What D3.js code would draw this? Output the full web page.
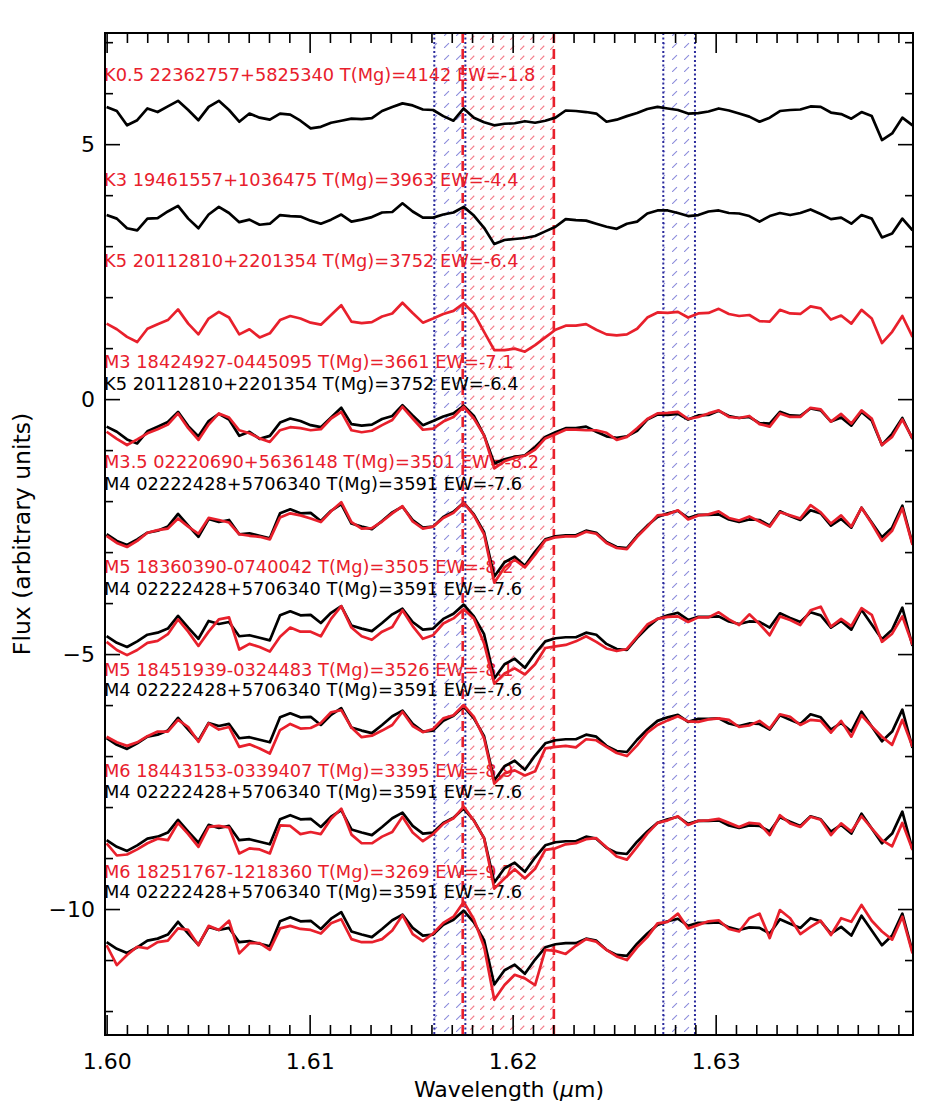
<!DOCTYPE html>
<html><head><meta charset="utf-8">
<script src="https://cdn.jsdelivr.net/npm/d3@7"></script>
<style>body{margin:0;background:#fff} svg text{font-family:"DejaVu Sans",sans-serif}</style>
</head><body>
<svg id="c" width="945" height="1102"></svg>
<script>
// ---------------- DATA ----------------
// wavelength grid (micron)
const wavelengths = d3.range(80).map(i => 1.6 + i * 0.0005025);

// spectra (flux relative to each panel's offset)
const specK05 = [0.13,0.05,-0.23,-0.13,0.10,0.03,0.14,0.25,0.07,-0.13,
 0.13,0.25,0.07,-0.16,0.00,-0.08,-0.12,0.00,-0.02,-0.14,
 -0.29,-0.26,-0.18,-0.14,-0.10,-0.11,-0.09,0.05,0.13,0.20,
 0.16,0.08,0.07,-0.05,-0.14,0.10,-0.08,-0.17,-0.23,-0.20,
 -0.19,-0.15,-0.18,-0.14,-0.08,0.06,0.05,0.03,0.00,-0.16,
 -0.12,-0.05,0.01,0.09,0.13,0.10,0.07,0.00,0.01,0.04,
 0.10,0.06,0.00,-0.06,-0.16,-0.08,0.05,0.07,0.08,0.14,
 0.13,0.02,-0.01,-0.10,0.03,-0.05,-0.52,-0.39,-0.08,-0.23];
const specK3 = [0.11,0.04,-0.15,-0.19,0.04,0.05,0.18,0.29,0.04,-0.15,
 0.12,0.27,0.15,-0.03,0.02,-0.08,-0.06,0.11,0.09,0.08,
 0.00,-0.06,0.02,0.12,-0.02,0.02,0.07,0.16,0.17,0.34,
 0.18,0.06,0.06,0.12,0.16,0.27,0.10,-0.14,-0.46,-0.38,
 -0.36,-0.34,-0.30,-0.21,-0.12,0.03,0.01,0.00,-0.06,-0.12,
 -0.16,-0.06,-0.02,0.14,0.20,0.20,0.15,0.09,0.11,0.18,
 0.20,0.15,0.14,0.09,-0.02,0.09,0.15,0.11,0.15,0.22,
 0.13,0.03,0.06,-0.06,0.11,0.04,-0.33,-0.25,0.04,-0.19];
const specK5 = [-0.02,-0.13,-0.28,-0.38,-0.12,-0.03,0.05,0.26,-0.02,-0.23,
 0.08,0.21,0.10,-0.23,-0.13,-0.29,-0.21,0.05,0.13,0.08,
 0.00,-0.04,0.15,0.34,0.02,-0.01,0.01,0.12,0.18,0.39,
 0.19,0.00,0.08,0.17,0.23,0.38,0.18,-0.18,-0.54,-0.54,
 -0.51,-0.57,-0.44,-0.29,-0.14,-0.06,-0.06,-0.03,-0.14,-0.23,
 -0.25,-0.23,-0.12,0.10,0.20,0.19,0.21,0.10,0.18,0.19,
 0.27,0.17,0.13,0.15,0.03,0.02,0.25,0.18,0.17,0.32,
 0.28,0.06,0.14,-0.02,0.25,0.08,-0.40,-0.18,0.13,-0.28];
const specK5b = [-0.04,-0.14,-0.29,-0.37,-0.13,-0.04,0.05,0.25,-0.03,-0.23,
 0.07,0.21,0.10,-0.22,-0.14,-0.28,-0.22,0.04,0.12,0.07,
 -0.01,-0.05,0.14,0.33,0.01,-0.02,0.00,0.11,0.17,0.38,
 0.18,-0.01,0.07,0.16,0.22,0.37,0.17,-0.21,-0.76,-0.68,
 -0.63,-0.60,-0.44,-0.24,-0.15,-0.07,-0.07,-0.04,-0.14,-0.23,
 -0.26,-0.23,-0.12,0.10,0.20,0.19,0.21,0.10,0.18,0.19,
 0.27,0.17,0.13,0.15,0.03,0.02,0.25,0.18,0.17,0.32,
 0.28,0.06,0.14,-0.02,0.25,0.08,-0.40,-0.18,0.13,-0.28];
const specM3 = [-0.14,-0.28,-0.40,-0.29,-0.17,-0.09,0.00,0.22,-0.07,-0.30,
 0.00,0.22,0.14,-0.11,-0.17,-0.27,-0.34,-0.11,-0.05,-0.07,
 -0.11,-0.09,0.12,0.25,-0.11,-0.15,-0.12,-0.01,0.09,0.35,
 0.12,-0.10,-0.08,0.06,0.15,0.35,0.12,-0.21,-0.86,-0.72,
 -0.65,-0.61,-0.49,-0.27,-0.19,-0.10,-0.10,-0.11,-0.11,-0.16,
 -0.30,-0.24,-0.07,0.11,0.22,0.23,0.25,0.11,0.15,0.22,
 0.28,0.15,0.13,0.17,0.01,-0.04,0.22,0.15,0.15,0.33,
 0.30,0.06,0.21,0.02,0.28,0.12,-0.40,-0.24,0.10,-0.27];
const specM35 = [-0.18,-0.32,-0.40,-0.28,-0.12,-0.07,-0.04,0.16,0.00,-0.14,
 0.17,0.13,0.08,-0.15,-0.18,-0.20,-0.25,0.18,0.26,0.22,
 0.16,0.09,0.30,0.48,0.09,-0.04,-0.03,0.10,0.26,0.40,
 0.10,-0.04,0.00,0.17,0.27,0.47,0.22,-0.15,-1.10,-0.80,
 -0.65,-0.80,-0.55,-0.27,-0.21,-0.19,-0.19,-0.10,-0.14,-0.32,
 -0.42,-0.44,-0.20,0.00,0.22,0.24,0.32,0.14,0.22,0.24,
 0.30,0.17,0.12,0.20,0.10,0.00,0.28,0.22,0.16,0.42,
 0.28,0.06,0.22,0.00,0.37,0.06,-0.28,-0.08,0.36,-0.36];
const specM4 = [-0.15,-0.28,-0.36,-0.25,-0.12,-0.08,0.00,0.25,0.02,-0.20,
 0.15,0.09,0.13,-0.15,-0.13,-0.18,-0.23,0.26,0.34,0.26,
 0.27,0.11,0.31,0.44,0.06,0.00,-0.05,0.11,0.28,0.39,
 0.13,-0.02,0.00,0.19,0.29,0.47,0.24,-0.11,-0.98,-0.70,
 -0.59,-0.77,-0.49,-0.25,-0.19,-0.17,-0.17,-0.08,-0.12,-0.30,
 -0.40,-0.42,-0.18,0.02,0.19,0.26,0.31,0.17,0.23,0.23,
 0.24,0.14,0.09,0.14,0.13,0.02,0.30,0.21,0.13,0.32,
 0.26,0.02,0.15,-0.02,0.37,0.08,-0.21,-0.02,0.41,-0.34];
const specM5a = [-0.26,-0.42,-0.52,-0.42,-0.28,-0.24,-0.11,0.18,-0.06,-0.34,
 -0.06,0.18,0.22,-0.41,-0.30,-0.36,-0.45,-0.16,0.02,-0.06,
 -0.06,-0.15,0.19,0.44,0.02,-0.15,-0.22,-0.06,0.03,0.36,
 0.05,-0.20,-0.13,0.10,0.20,0.38,0.20,-0.29,-1.08,-0.88,
 -0.78,-0.90,-0.70,-0.38,-0.35,-0.32,-0.25,-0.15,-0.26,-0.39,
 -0.44,-0.40,-0.16,0.08,0.19,0.23,0.24,0.13,0.22,0.22,
 0.32,0.18,0.07,0.28,0.09,-0.13,0.24,0.17,0.07,0.36,
 0.43,0.04,0.19,0.05,0.40,0.27,-0.26,-0.10,0.24,-0.32];
const specM5b = [-0.12,-0.23,-0.30,-0.23,-0.11,-0.02,-0.02,0.21,0.07,-0.22,
 0.14,0.02,0.07,-0.32,-0.27,-0.35,-0.45,0.01,0.13,0.04,
 0.05,0.15,0.36,0.40,0.06,-0.13,-0.10,0.00,0.11,0.37,
 0.09,-0.03,0.03,0.24,0.30,0.50,0.27,-0.15,-1.04,-0.84,
 -0.78,-0.88,-0.80,-0.35,-0.32,-0.30,-0.33,-0.17,-0.19,-0.32,
 -0.44,-0.50,-0.29,-0.04,0.11,0.20,0.28,0.18,0.17,0.22,
 0.24,0.21,0.07,0.10,0.19,0.04,0.32,0.27,0.11,0.21,
 0.19,-0.04,0.19,-0.12,0.30,0.08,-0.12,-0.28,0.21,-0.32];
const specM6a = [-0.21,-0.45,-0.43,-0.33,-0.21,-0.12,-0.15,0.19,-0.03,-0.28,
 0.11,0.13,0.10,-0.41,-0.31,-0.33,-0.41,0.14,0.13,-0.03,
 0.01,-0.03,0.27,0.47,-0.04,-0.21,-0.21,-0.08,0.01,0.31,
 0.00,-0.17,-0.03,0.17,0.28,0.51,0.23,-0.11,-1.10,-0.90,
 -0.72,-0.90,-0.71,-0.34,-0.31,-0.23,-0.21,-0.13,-0.11,-0.29,
 -0.47,-0.53,-0.28,-0.02,0.19,0.24,0.32,0.15,0.23,0.24,
 0.27,0.19,0.11,0.19,0.17,-0.05,0.34,0.18,0.11,0.31,
 0.25,-0.05,0.18,0.02,0.32,0.08,-0.15,-0.27,0.19,-0.34];
const specM6b = [-0.21,-0.60,-0.40,-0.24,-0.27,-0.15,-0.12,0.12,0.09,-0.21,
 0.17,0.09,0.27,-0.37,-0.17,-0.17,-0.30,0.12,0.17,0.11,
 0.09,0.02,0.22,0.30,-0.09,-0.15,-0.15,-0.09,0.08,0.38,
 0.01,-0.13,0.02,0.23,0.35,0.64,0.30,-0.24,-1.28,-0.99,
 -0.79,-0.86,-0.99,-0.30,-0.32,-0.38,-0.22,-0.09,-0.14,-0.30,
 -0.43,-0.50,-0.25,-0.05,0.22,0.25,0.41,0.12,0.19,0.26,
 0.28,0.11,0.06,0.32,0.41,-0.07,0.48,0.32,0.01,0.15,
 0.27,-0.01,0.32,0.25,0.58,0.27,0.06,-0.10,0.35,-0.37];

// panel offsets (flux units)
const panelOffsets = [5.6, 3.5, 1.5, -0.5, -2.5, -4.5, -6.5, -8.5, -10.5];

// per panel: comparison (black) spectrum and target (red) spectrum
const blackSpectra = [specK05, specK3, null, specK5b, specM4, specM4, specM4, specM4, specM4];
const redSpectra   = [null, null, specK5, specM3, specM35, specM5a, specM5b, specM6a, specM6b];

const redLabels = [
  "K0.5 22362757+5825340 T(Mg)=4142 EW=-1.8",
  "K3 19461557+1036475 T(Mg)=3963 EW=-4.4",
  "K5 20112810+2201354 T(Mg)=3752 EW=-6.4",
  "M3 18424927-0445095 T(Mg)=3661 EW=-7.1",
  "M3.5 02220690+5636148 T(Mg)=3501 EW=-8.2",
  "M5 18360390-0740042 T(Mg)=3505 EW=-8.2",
  "M5 18451939-0324483 T(Mg)=3526 EW=-8.1",
  "M6 18443153-0339407 T(Mg)=3395 EW=-8.9",
  "M6 18251767-1218360 T(Mg)=3269 EW=-9.7"];
const blackLabels = [null, null, null,
  "K5 20112810+2201354 T(Mg)=3752 EW=-6.4",
  "M4 02222428+5706340 T(Mg)=3591 EW=-7.6",
  "M4 02222428+5706340 T(Mg)=3591 EW=-7.6",
  "M4 02222428+5706340 T(Mg)=3591 EW=-7.6",
  "M4 02222428+5706340 T(Mg)=3591 EW=-7.6",
  "M4 02222428+5706340 T(Mg)=3591 EW=-7.6"];

// spectral windows (micron)
const blueWindows = [[1.61614, 1.61767], [1.62742, 1.62898]];
const redWindow = [1.61754, 1.62203];

const xTickValues = [1.60, 1.61, 1.62, 1.63];
const xTickLabels = ["1.60", "1.61", "1.62", "1.63"];
const yTickValues = [5, 0, -5, -10];
const yTickLabels = ["5", "0", "\u22125", "\u221210"];

// ---------------- LAYOUT ----------------
const L = {left: 105, right: 913, top: 33, bottom: 1035};
const redLabelY = [6.235, 4.176, 2.588, 0.608, -1.353, -3.412, -5.431, -7.412, -9.392];
const blackLabelY = [null, null, null, 0.176, -1.784, -3.843, -5.824, -7.824, -9.784];
const RED = "#e8202c", BLUE = "#2a2a9c";

const svg = d3.select("#c");
const x = d3.scaleLinear().domain([1.59992, 1.63972]).range([L.left, L.right]);
const y = d3.scaleLinear().domain([-12.47, 7.18]).range([L.bottom, L.top]);

// patterns
const defs = svg.append("defs");
function hatch(id, size, color, dash, w) {
  const p = defs.append("pattern").attr("id", id).attr("patternUnits", "userSpaceOnUse")
    .attr("width", size).attr("height", size);
  p.append("line").attr("x1", 0).attr("y1", size).attr("x2", size).attr("y2", 0)
    .attr("stroke", color).attr("stroke-width", w).attr("stroke-dasharray", dash);
}
hatch("hRed", 10, "#f4808c", "6,8.14", 1.15);
hatch("hBlue", 12, "#8e8edc", "7,9.97", 1.15);

const plot = svg.append("g");
// hatched windows
plot.append("rect").attr("x", x(redWindow[0])).attr("width", x(redWindow[1]) - x(redWindow[0]))
  .attr("y", L.top).attr("height", L.bottom - L.top).attr("fill", "url(#hRed)");
blueWindows.forEach(w => {
  plot.append("rect").attr("x", x(w[0])).attr("width", x(w[1]) - x(w[0]))
    .attr("y", L.top).attr("height", L.bottom - L.top).attr("fill", "url(#hBlue)");
});

// labels
const labG = svg.append("g").attr("font-size", "17.8px");
redLabels.forEach((t, i) => {
  labG.append("text").attr("x", L.left - 1).attr("y", y(redLabelY[i])).attr("fill", RED).text(t);
});
blackLabels.forEach((t, i) => {
  if (!t) return;
  labG.append("text").attr("x", L.left - 1).attr("y", y(blackLabelY[i])).attr("fill", "#000").text(t);
});

// vertical window boundaries
blueWindows.forEach(w => w.forEach(v => {
  plot.append("line").attr("x1", x(v)).attr("x2", x(v)).attr("y1", L.top).attr("y2", L.bottom)
    .attr("stroke", BLUE).attr("stroke-width", 2).attr("stroke-dasharray", "2,2.5");
}));
redWindow.forEach(v => {
  plot.append("line").attr("x1", x(v)).attr("x2", x(v)).attr("y1", L.top).attr("y2", L.bottom)
    .attr("stroke", RED).attr("stroke-width", 2.6).attr("stroke-dasharray", "10,6");
});

// spectra
const clip = defs.append("clipPath").attr("id", "clipP");
clip.append("rect").attr("x", L.left).attr("y", L.top).attr("width", L.right - L.left).attr("height", L.bottom - L.top);
const specG = svg.append("g").attr("clip-path", "url(#clipP)");
function drawSpec(arr, off, color) {
  const line = d3.line().x((d, i) => x(wavelengths[i])).y(d => y(d + off));
  specG.append("path").attr("d", line(arr)).attr("fill", "none").attr("stroke", color)
    .attr("stroke-width", 2.7).attr("stroke-linejoin", "round");
}
panelOffsets.forEach((off, i) => {
  if (blackSpectra[i]) drawSpec(blackSpectra[i], off, "#000");
  if (redSpectra[i]) drawSpec(redSpectra[i], off, RED);
});

// axes
const xMinor = d3.range(1600, 1640).map(v => v / 1000).filter(v => !xTickValues.some(t => Math.abs(t - v) < 1e-9));
const yMinor = d3.range(-12, 8).filter(v => !yTickValues.includes(v));
function styleAxis(g, fs) {
  g.select(".domain").remove();
  g.selectAll(".tick line").attr("stroke-width", 1.6);
  g.selectAll("text").attr("font-family", "DejaVu Sans").attr("font-size", fs).attr("fill", "#000");
}
svg.append("g").attr("transform", `translate(0,${L.bottom})`)
  .call(d3.axisBottom(x).tickValues(xTickValues).tickFormat((d, i) => xTickLabels[i]).tickSize(-20).tickPadding(18.4))
  .call(g => styleAxis(g, "22px"));
svg.append("g").attr("transform", `translate(0,${L.bottom})`)
  .call(d3.axisBottom(x).tickValues(xMinor).tickFormat("").tickSize(-10)).call(g => styleAxis(g, "1px"));
svg.append("g").attr("transform", `translate(0,${L.top})`)
  .call(d3.axisTop(x).tickValues(xTickValues).tickFormat("").tickSize(-20)).call(g => styleAxis(g, "1px"));
svg.append("g").attr("transform", `translate(0,${L.top})`)
  .call(d3.axisTop(x).tickValues(xMinor).tickFormat("").tickSize(-10)).call(g => styleAxis(g, "1px"));
svg.append("g").attr("transform", `translate(${L.left},0)`)
  .call(d3.axisLeft(y).tickValues(yTickValues).tickFormat((d, i) => yTickLabels[i]).tickSize(-15).tickPadding(10))
  .call(g => styleAxis(g, "22px"));
svg.append("g").attr("transform", `translate(${L.left},0)`)
  .call(d3.axisLeft(y).tickValues(yMinor).tickFormat("").tickSize(-8)).call(g => styleAxis(g, "1px"));
svg.append("g").attr("transform", `translate(${L.right},0)`)
  .call(d3.axisRight(y).tickValues(yTickValues).tickFormat("").tickSize(-15)).call(g => styleAxis(g, "1px"));
svg.append("g").attr("transform", `translate(${L.right},0)`)
  .call(d3.axisRight(y).tickValues(yMinor).tickFormat("").tickSize(-8)).call(g => styleAxis(g, "1px"));

// frame
svg.append("rect").attr("x", L.left).attr("y", L.top).attr("width", L.right - L.left).attr("height", L.bottom - L.top)
  .attr("fill", "none").attr("stroke", "#000").attr("stroke-width", 2);

// titles
const xt = svg.append("text").attr("x", (L.left + L.right) / 2).attr("y", 1096.5)
  .attr("text-anchor", "middle").attr("font-size", "22px").attr("fill", "#000");
xt.append("tspan").text("Wavelength (");
xt.append("tspan").attr("font-style", "italic").text("\u03bc");
xt.append("tspan").text("m)");
svg.append("text").attr("transform", `translate(30,${(L.top + L.bottom) / 2}) rotate(-90)`)
  .attr("text-anchor", "middle").attr("font-size", "23.5px").attr("fill", "#000")
  .text("Flux (arbitrary units)");
</script>
</body></html>
